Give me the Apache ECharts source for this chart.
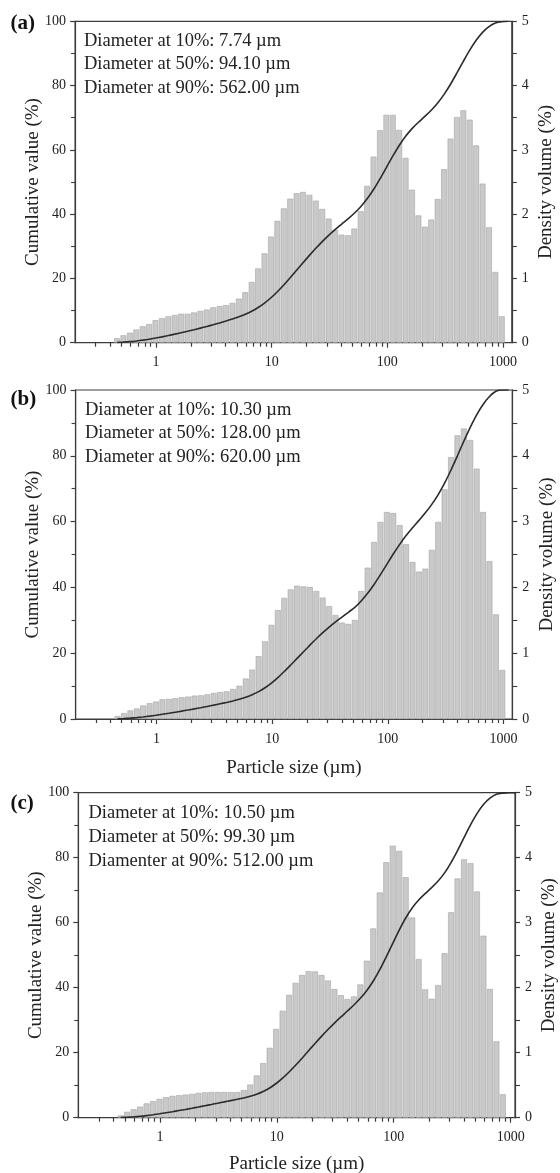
<!DOCTYPE html>
<html><head><meta charset="utf-8">
<script src="https://cdn.jsdelivr.net/npm/echarts@6/dist/echarts.min.js"></script>
<style>html,body{margin:0;padding:0;background:#fff}#c{width:560px;height:1173px}</style>
</head><body><div id="c"></div>
<script>
// Size classes (µm), bar positions
const sizeClasses = [0.4606,0.5233,0.5946,0.6755,0.7675,0.8719,0.9905,1.1253,1.2786,1.4526,1.6503,1.8750,2.1302,2.4202,2.7497,3.1240,3.5493,4.0325,4.5814,5.2051,5.9137,6.7188,7.6335,8.6726,9.8583,11.198,12.723,14.454,16.422,18.658,21.198,24.083,27.362,31.087,35.318,40.126,45.589,51.795,58.846,66.857,75.958,86.298,98.05,111.39,126.56,143.79,163.36,185.60,210.87,239.57,272.19,309.24,351.34,399.17,453.51,515.24,585.38,665.07,755.60,858.46,975.33,1108.1];

// Density volume (%) per size class
const densityA = [0.07,0.115,0.155,0.205,0.255,0.29,0.35,0.38,0.41,0.43,0.45,0.45,0.47,0.495,0.515,0.55,0.57,0.585,0.62,0.685,0.785,0.945,1.155,1.39,1.65,1.895,2.09,2.24,2.325,2.345,2.30,2.21,2.08,1.93,1.755,1.68,1.67,1.775,2.045,2.44,2.895,3.305,3.545,3.545,3.31,2.875,2.38,1.98,1.805,1.915,2.235,2.70,3.175,3.51,3.615,3.47,3.07,2.475,1.795,1.10,0.41];
const densityB = [0.045,0.09,0.13,0.16,0.205,0.24,0.265,0.30,0.305,0.315,0.33,0.34,0.355,0.36,0.375,0.395,0.41,0.42,0.455,0.505,0.615,0.75,0.955,1.18,1.43,1.655,1.84,1.97,2.025,2.015,2.005,1.945,1.845,1.715,1.58,1.465,1.445,1.505,1.945,2.30,2.69,2.995,3.145,3.13,2.945,2.655,2.385,2.24,2.285,2.57,2.995,3.49,3.98,4.31,4.415,4.24,3.805,3.145,2.40,1.59,0.745];
const densityC = [0.035,0.09,0.13,0.17,0.22,0.255,0.29,0.315,0.335,0.345,0.355,0.365,0.38,0.39,0.395,0.395,0.395,0.395,0.395,0.425,0.51,0.65,0.84,1.075,1.365,1.645,1.89,2.075,2.195,2.255,2.25,2.195,2.11,1.98,1.885,1.825,1.865,2.05,2.415,2.91,3.465,3.93,4.185,4.105,3.70,3.08,2.44,1.975,1.83,2.04,2.53,3.16,3.68,3.975,3.915,3.48,2.80,1.98,1.175,0.36];

// Cumulative value (%) per size class
const cumulativeA = [0.07,0.19,0.34,0.55,0.80,1.09,1.44,1.82,2.23,2.66,3.11,3.56,4.03,4.53,5.04,5.59,6.16,6.75,7.37,8.05,8.84,9.78,10.94,12.33,13.98,15.87,17.96,20.20,22.53,24.87,27.17,29.38,31.46,33.39,35.15,36.83,38.50,40.27,42.32,44.76,47.65,50.96,54.50,58.05,61.36,64.23,66.61,68.59,70.40,72.31,74.55,77.25,80.42,83.93,87.55,91.02,94.09,96.56,98.36,99.46,99.87,100];
const cumulativeB = [0.05,0.14,0.27,0.43,0.63,0.87,1.14,1.44,1.74,2.06,2.39,2.73,3.08,3.44,3.82,4.21,4.62,5.04,5.50,6.00,6.62,7.37,8.32,9.50,10.93,12.59,14.43,16.40,18.42,20.44,22.44,24.39,26.23,27.95,29.53,30.99,32.44,33.94,35.89,38.19,40.88,43.87,47.02,50.15,53.09,55.75,58.13,60.37,62.66,65.23,68.22,71.71,75.69,80.00,84.42,88.66,92.46,95.61,98.01,99.60,100,100];
const cumulativeC = [0.04,0.13,0.26,0.43,0.65,0.90,1.19,1.51,1.84,2.19,2.54,2.91,3.29,3.68,4.07,4.47,4.86,5.26,5.65,6.08,6.59,7.24,8.08,9.15,10.52,12.16,14.05,16.13,18.32,20.58,22.83,25.02,27.13,29.11,31.00,32.82,34.69,36.74,39.15,42.06,45.53,49.46,53.64,57.75,61.45,64.53,66.97,68.94,70.77,72.81,75.34,78.50,82.18,86.16,90.07,93.55,96.35,98.33,99.51,99.87,100,100];

// Axis ticks and labels
const majorTicks = [1, 10, 100, 1000];
const xTickLabels = ['1', '10', '100', '1000'];
const minorTicks = [0.3,0.4,0.5,0.6,0.7,0.8,0.9,2,3,4,5,6,7,8,9,20,30,40,50,60,70,80,90,200,300,400,500,600,700,800,900];

// Annotation texts
const notesA = ['Diameter at 10%: 7.74 µm', 'Diameter at 50%: 94.10 µm', 'Diameter at 90%: 562.00 µm'];
const notesB = ['Diameter at 10%: 10.30 µm', 'Diameter at 50%: 128.00 µm', 'Diameter at 90%: 620.00 µm'];
const notesC = ['Diameter at 10%: 10.50 µm', 'Diameter at 50%: 99.30 µm', 'Diamenter at 90%: 512.00 µm'];

const FONT = '"Liberation Serif", "Times New Roman", serif';
const AX = '#3c3c3c';
const TXT = '#222';

const panels = [
  {grid:{left:75.1, top:21.3, width:436.7, height:321.4}, xMax:1190, dens:densityA, cum:cumulativeA, notes:notesA, tag:'(a)', tagY:24, noteX:84, noteY:[41,64.5,88], xTitle:'', barW:5.8},
  {grid:{left:75.6, top:390, width:436.7, height:329}, xMax:1190, dens:densityB, cum:cumulativeB, notes:notesB, tag:'(b)', tagY:400, noteX:85, noteY:[410,433.5,457.3], xTitle:'Particle size (µm)', xGap:40, barW:5.8},
  {grid:{left:78.3, top:792.7, width:436.7, height:325}, xMax:1090, dens:densityC, cum:cumulativeC, notes:notesC, tag:'(c)', tagY:804, noteX:88.5, noteY:[813,837,861], xTitle:'Particle size (µm)', xGap:37, barW:5.9}
];

const grids = [], xAxes = [], yAxes = [], series = [], graphics = [];
panels.forEach((p, k) => {
  grids.push(Object.assign({show:true, borderColor:AX, borderWidth:1.2, backgroundColor:'transparent', containLabel:false, outerBoundsMode:'none'}, p.grid));
  xAxes.push({
    gridIndex:k, type:'log', logBase:10, min:0.2, max:p.xMax, position:'bottom',
    axisLine:{show:true, lineStyle:{color:AX, width:1.2}},
    axisTick:{show:true, length:5, customValues:majorTicks, lineStyle:{color:AX, width:1.2}},
    axisLabel:{show:true, customValues:majorTicks, margin:13, fontSize:14, fontFamily:FONT, color:TXT,
      formatter: v => { const i = majorTicks.findIndex(t => Math.abs(t - v) / t < 1e-6); return i >= 0 ? xTickLabels[i] : ''; }},
    splitLine:{show:false}, minorTick:{show:false},
    name:p.xTitle, nameLocation:'middle', nameGap:p.xGap || 30, nameMoveOverlap:false,
    nameTextStyle:{fontSize:19, fontFamily:FONT, color:TXT}
  });
  xAxes.push({
    gridIndex:k, type:'log', logBase:10, min:0.2, max:p.xMax, position:'bottom',
    axisLine:{show:false},
    axisTick:{show:true, length:4, customValues:minorTicks, lineStyle:{color:AX, width:1.2}},
    axisLabel:{show:false}, splitLine:{show:false}
  });
  yAxes.push({
    gridIndex:k, type:'value', min:0, max:100, interval:20, position:'left',
    axisLine:{show:true, lineStyle:{color:AX, width:1.2}},
    axisTick:{show:true, length:5, lineStyle:{color:AX, width:1.2}},
    minorTick:{show:true, splitNumber:2, length:4, lineStyle:{color:AX, width:1.1}},
    axisLabel:{margin:9, fontSize:14, fontFamily:FONT, color:TXT},
    splitLine:{show:false},
    name:'Cumulative value (%)', nameLocation:'middle', nameRotate:90, nameGap:33, nameMoveOverlap:false,
    nameTextStyle:{fontSize:19, fontFamily:FONT, color:TXT}
  });
  yAxes.push({
    gridIndex:k, type:'value', min:0, max:5, interval:1, position:'right',
    axisLine:{show:true, lineStyle:{color:AX, width:1.2}},
    axisTick:{show:true, length:5, lineStyle:{color:AX, width:1.2}},
    minorTick:{show:true, splitNumber:2, length:5, lineStyle:{color:AX, width:1.1}},
    axisLabel:{margin:10, fontSize:14, fontFamily:FONT, color:TXT},
    splitLine:{show:false},
    name:'Density volume (%)', nameLocation:'middle', nameRotate:90, nameGap:25, nameMoveOverlap:false,
    nameTextStyle:{fontSize:19, fontFamily:FONT, color:TXT}
  });
  series.push({
    type:'bar', xAxisIndex:2*k, yAxisIndex:2*k+1, barWidth:p.barW,
    data:p.dens.map((d, i) => [sizeClasses[i], d]),
    itemStyle:{color:'#c9c9c9', borderColor:'#a4a4a4', borderWidth:0.6},
    silent:true, animation:false, z:2
  });
  series.push({
    type:'line', xAxisIndex:2*k, yAxisIndex:2*k, smooth:0.3,
    data:p.cum.map((c, i) => [sizeClasses[i], c]),
    symbol:'none', lineStyle:{color:'#2b2b2b', width:1.6},
    silent:true, animation:false, z:3
  });
  graphics.push({type:'text', x:10.5, y:p.tagY, style:{text:p.tag, font:'bold 21px ' + FONT, fill:'#111', verticalAlign:'middle', align:'left'}});
  p.notes.forEach((t, j) => {
    graphics.push({type:'text', x:p.noteX, y:p.noteY[j], style:{text:t, font:'18.5px ' + FONT, fill:TXT, verticalAlign:'middle', align:'left'}});
  });
});

const chart = echarts.init(document.getElementById('c'), null, {renderer:'canvas'});
chart.setOption({
  backgroundColor:'#fff', animation:false,
  grid:grids, xAxis:xAxes, yAxis:yAxes, series:series, graphic:graphics
});
</script>
</body></html>
